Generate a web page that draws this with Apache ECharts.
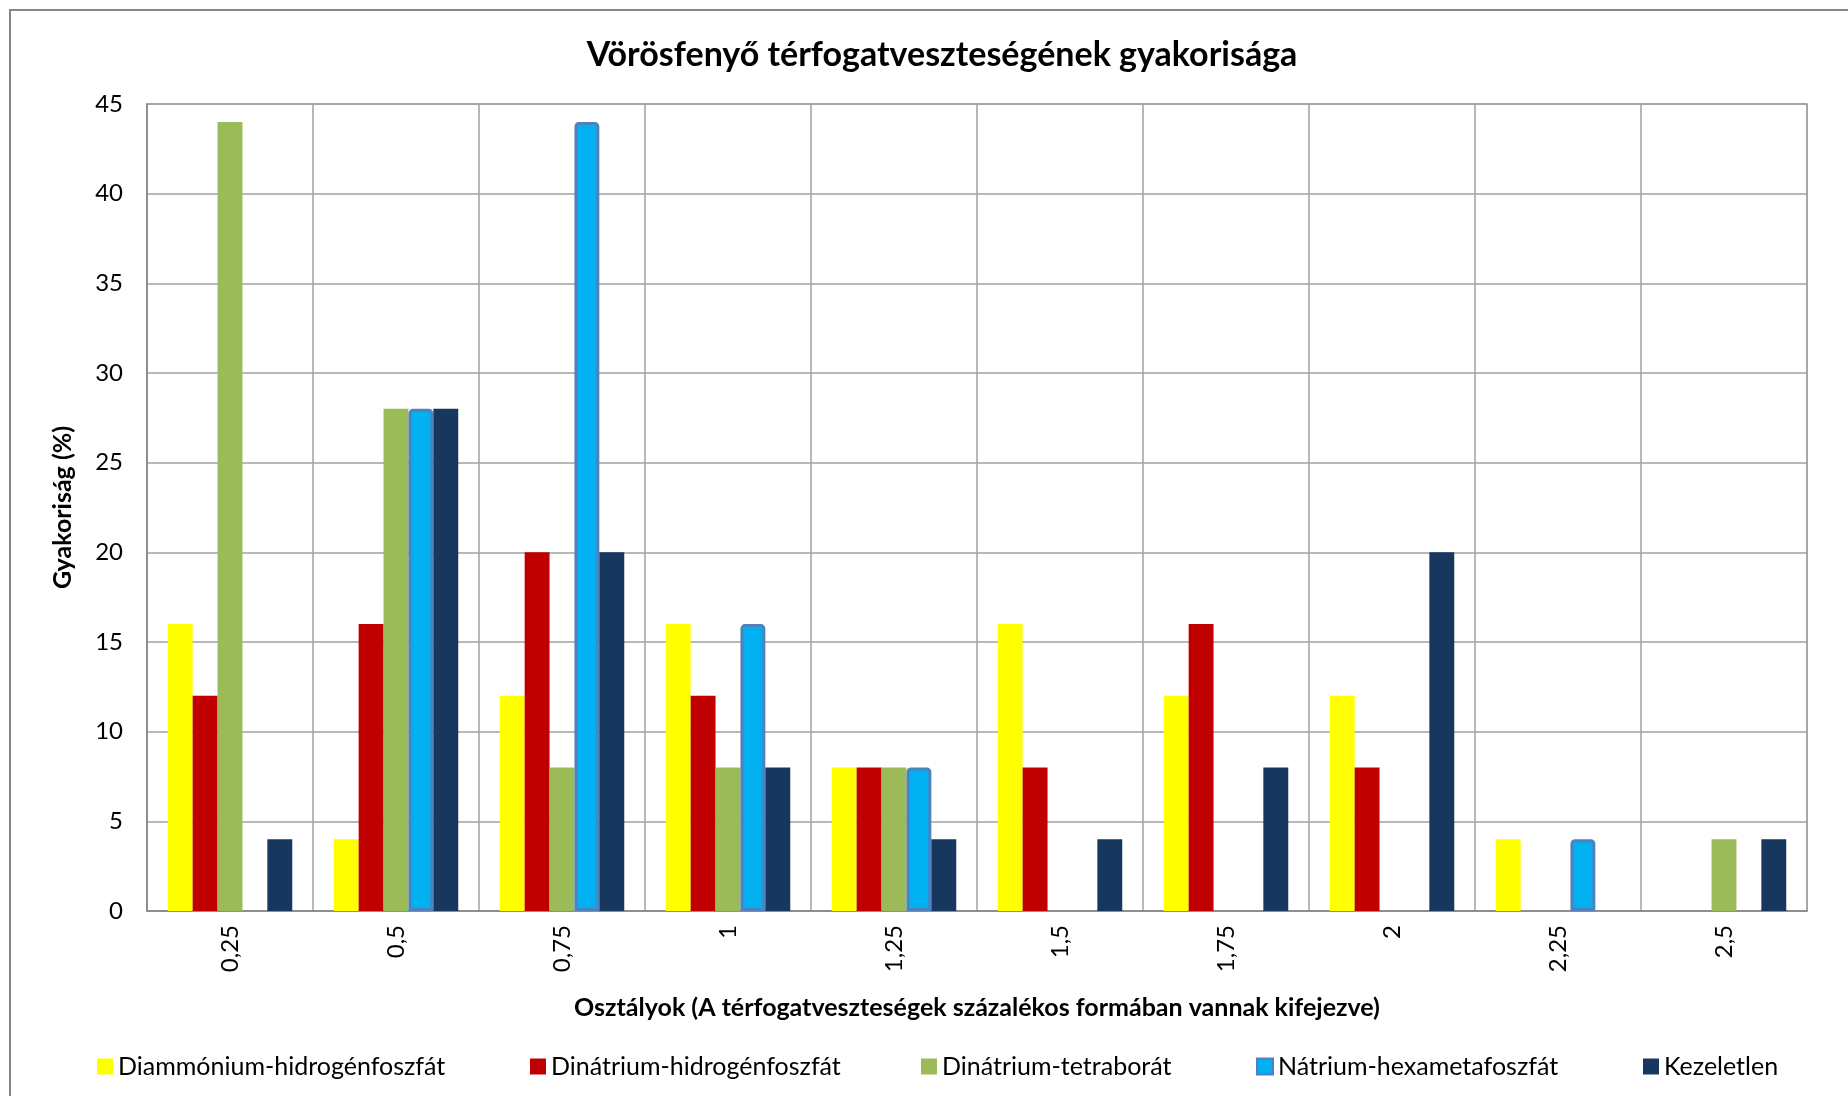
<!DOCTYPE html>
<html>
<head>
<meta charset="utf-8">
<script src="https://cdn.jsdelivr.net/npm/echarts@6/dist/echarts.min.js"></script>
<style>
  html, body { margin: 0; padding: 0; background: #fff; }
  #chart { width: 1848px; height: 1096px; }
</style>
</head>
<body>
<div id="chart"></div>
<script>
// kategóriák (osztályok)
var categories = ['0,25', '0,5', '0,75', '1', '1,25', '1,5', '1,75', '2', '2,25', '2,5'];
var seriesNames = ['Diammónium-hidrogénfoszfát', 'Dinátrium-hidrogénfoszfát', 'Dinátrium-tetraborát', 'Nátrium-hexametafoszfát', 'Kezeletlen'];
var diammonium = [16, 4, 12, 16, 8, 16, 12, 12, 4, 0];
var dinatriumHidrogen = [12, 16, 20, 12, 8, 8, 16, 8, 0, 0];
var dinatriumTetraborat = [44, 28, 8, 8, 8, 0, 0, 0, 0, 4];
var natriumHexameta = [0, 28, 44, 16, 8, 0, 0, 0, 4, 0];
var kezeletlen = [4, 28, 20, 8, 4, 4, 8, 20, 0, 4];
var yTicks = [0, 5, 10, 15, 20, 25, 30, 35, 40, 45];

var colors = ['#FFFF00', '#C00000', '#9BBB59', '#00B0F0', '#17375E'];
var values = [diammonium, dinatriumHidrogen, dinatriumTetraborat, natriumHexameta, kezeletlen];
var legendLeft = [92, 525, 916, 1251, 1638];
var font = 'Lato, "Open Sans", sans-serif';

var series = [];
var legends = [];
for (var i = 0; i < seriesNames.length; i++) {
	var s = {
		name: seriesNames[i],
		type: 'bar',
		// a nulla értékű oszlopokat nem rajzoljuk (a keret miatt)
		data: values[i].map(function (v) { return v === 0 ? '-' : v; }),
		barGap: '0%',
		barCategoryGap: '25%',
		itemStyle: { color: colors[i] }
	};
	if (i == 3) {
		s.itemStyle = { color: colors[i], borderColor: '#4F81BD', borderWidth: 3, borderRadius: [3, 3, 0, 0] };
	}
	series.push(s);
	legends.push({
		left: legendLeft[i],
		top: 1049,
		data: [seriesNames[i]],
		itemWidth: 16,
		itemHeight: 16,
		itemGap: 6,
		icon: 'rect',
		textStyle: { fontFamily: font, fontSize: 25, color: '#000' }
	});
}

var chart = echarts.init(document.getElementById('chart'));
var option = {
	backgroundColor: '#fff',
	animation: false,
	title: {
		text: 'Vörösfenyő térfogatveszteségének gyakorisága',
		left: 937,
		textAlign: 'center',
		top: 33,
		textStyle: { fontFamily: font, fontSize: 34, fontWeight: 'bold', color: '#000' }
	},
	legend: legends,
	graphic: [{
		type: 'rect',
		shape: { x: 10, y: 10, width: 1860, height: 1100 },
		style: { fill: 'none', stroke: '#868686', lineWidth: 2 },
		silent: true
	}, {
		// a rajzterület kerete
		type: 'rect',
		shape: { x: 147, y: 104, width: 1660, height: 807 },
		style: { fill: 'none', stroke: '#A0A0A0', lineWidth: 1.5 },
		silent: true,
		z: -1
	}],
	grid: { left: 147, right: 41, top: 104, bottom: 185 },
	xAxis: {
		type: 'category',
		data: categories,
		name: 'Osztályok (A térfogatveszteségek százalékos formában vannak kifejezve)',
		nameLocation: 'middle',
		nameGap: 84,
		nameTextStyle: { fontFamily: font, fontSize: 25, fontWeight: 'bold', color: '#000' },
		axisLine: { lineStyle: { color: '#868686', width: 1.5 } },
		axisTick: { show: false },
		axisLabel: { rotate: 90, margin: 14, fontFamily: font, fontSize: 24, color: '#000' },
		splitLine: { show: true, lineStyle: { color: '#A0A0A0', width: 1.5 } }
	},
	yAxis: {
		type: 'value',
		min: yTicks[0],
		max: yTicks[yTicks.length - 1],
		interval: 5,
		name: 'Gyakoriság (%)',
		nameLocation: 'middle',
		nameGap: 72,
		nameTextStyle: { fontFamily: font, fontSize: 25, fontWeight: 'bold', color: '#000' },
		axisLine: { show: true, lineStyle: { color: '#868686', width: 1.5 } },
		axisTick: { show: false },
		axisLabel: { margin: 24, fontFamily: font, fontSize: 24, color: '#000' },
		splitLine: { show: true, lineStyle: { color: '#A0A0A0', width: 1.5 } }
	},
	series: series
};
chart.setOption(option);
</script>
</body>
</html>
